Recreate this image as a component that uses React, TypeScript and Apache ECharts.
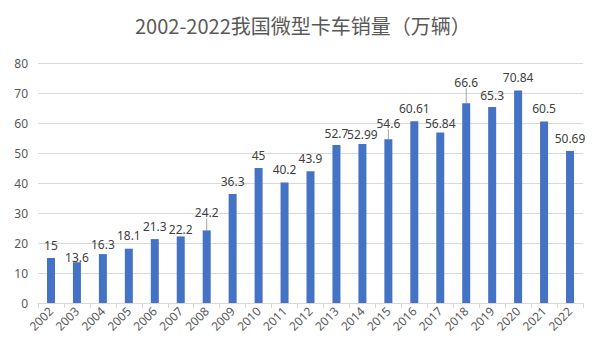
import React, { useEffect, useRef } from "react";
import * as echarts from "echarts";

const years = ["2002","2003","2004","2005","2006","2007","2008","2009","2010","2011","2012","2013","2014","2015","2016","2017","2018","2019","2020","2021","2022"];
const sales = [15, 13.6, 16.3, 18.1, 21.3, 22.2, 24.2, 36.3, 45, 40.2, 43.9, 52.7, 52.99, 54.6, 60.61, 56.84, 66.6, 65.3, 70.84, 60.5, 50.69];
// label distances above bars (as placed in the original)
const labelGap = [7, -1, 4, 7, 7, 1, 5, 7, 7, 7, 7, 5, 4, 5, 7, 3, 5, 6, 7, 7, 6];
// labels lifted with a leader line
const lifted: Record<number, number> = { 6: 7, 13: 5, 16: 10 };

const TITLE = "2002-2022我国微型卡车销量（万辆）";

export default function App() {
  const ref = useRef<HTMLDivElement>(null);
  useEffect(() => {
    if (!ref.current) return;
    const chart = echarts.init(ref.current, null, { renderer: "svg" });
    const font = "'Noto Sans', 'Noto Sans CJK SC', sans-serif";
    chart.setOption({
      animation: false,
      title: {
        text: TITLE,
        left: 130,
        top: 10,
        textStyle: { fontSize: 20, fontWeight: "normal", color: "#595959", fontFamily: "'Noto Sans CJK SC', sans-serif" },
      },
      grid: { left: 38, right: 17, top: 63, bottom: 43 },
      xAxis: {
        type: "category",
        data: years,
        axisLine: { lineStyle: { color: "#d9d9d9" } },
        axisTick: { show: true, length: 5, lineStyle: { color: "#d9d9d9" } },
        axisLabel: { rotate: 45, color: "#595959", fontSize: 12, margin: 6, fontFamily: font, interval: 0 },
      },
      yAxis: {
        type: "value",
        min: 0,
        max: 80,
        interval: 10,
        axisLine: { show: false },
        axisTick: { show: false },
        splitLine: { lineStyle: { color: "#d9d9d9" } },
        axisLabel: { color: "#595959", fontSize: 12, margin: 10, fontFamily: font },
      },
      series: [
        {
          type: "bar",
          barWidth: 8,
          itemStyle: { color: "#4472C4" },
          data: sales.map((v, i) => ({
            value: v,
            label: { distance: labelGap[i] },
            labelLine: { show: lifted[i] !== undefined },
          })),
          label: {
            show: true,
            position: "top",
            color: "#404040",
            fontSize: 12,
            fontFamily: font,
          },
          labelLayout: (p: any) => (lifted[p.dataIndex] !== undefined ? { dy: -lifted[p.dataIndex] } : {}),
          labelLine: { show: false, lineStyle: { color: "#a6a6a6", width: 1 } },
        },
      ],
    });
    return () => chart.dispose();
  }, []);
  return <div ref={ref} style={{ position: "absolute", left: 0, top: 0, width: 600, height: 346 }} />;
}
